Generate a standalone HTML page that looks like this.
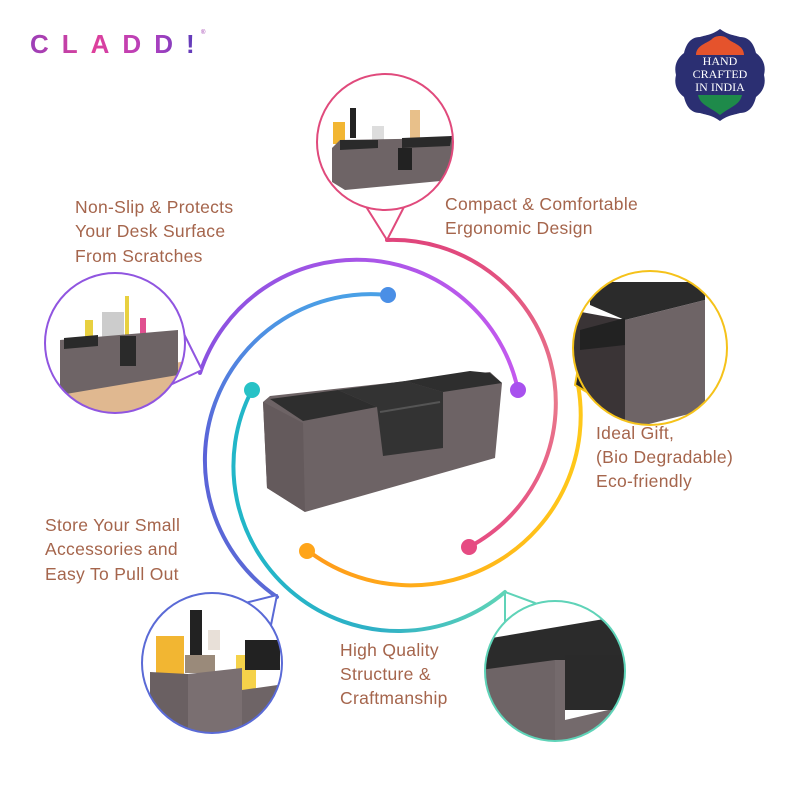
<!DOCTYPE html>
<html><head><meta charset="utf-8"><style>
html,body{margin:0;padding:0;background:#fff;width:800px;height:800px;overflow:hidden}
svg{display:block}
.t{font-family:"Liberation Sans",sans-serif;font-size:17.5px;fill:#a5654c;letter-spacing:0.3px}
</style></head><body>
<svg width="800" height="800" viewBox="0 0 800 800" xmlns="http://www.w3.org/2000/svg">
<defs>
<linearGradient id="lg" x1="30" y1="0" x2="205" y2="0" gradientUnits="userSpaceOnUse">
<stop offset="0" stop-color="#9b3fb8"/><stop offset="0.35" stop-color="#e0409a"/><stop offset="0.7" stop-color="#b040c0"/><stop offset="1" stop-color="#4a3bb8"/></linearGradient>
<linearGradient id="gP" x1="200" y1="0" x2="520" y2="0" gradientUnits="userSpaceOnUse"><stop offset="0" stop-color="#8a52e0"/><stop offset="1" stop-color="#c459ee"/></linearGradient>
<linearGradient id="gK" x1="0" y1="240" x2="0" y2="550" gradientUnits="userSpaceOnUse"><stop offset="0" stop-color="#e0457c"/><stop offset="0.5" stop-color="#e97a8c"/><stop offset="1" stop-color="#e64b82"/></linearGradient>
<linearGradient id="gB" x1="0" y1="295" x2="0" y2="600" gradientUnits="userSpaceOnUse"><stop offset="0" stop-color="#4aa0e6"/><stop offset="0.5" stop-color="#5a62d8"/><stop offset="1" stop-color="#5a6ad6"/></linearGradient>
<linearGradient id="gT" x1="250" y1="0" x2="510" y2="0" gradientUnits="userSpaceOnUse"><stop offset="0" stop-color="#22b6c8"/><stop offset="0.5" stop-color="#2fb0c6"/><stop offset="1" stop-color="#62d6b6"/></linearGradient>
<linearGradient id="gO" x1="307" y1="0" x2="580" y2="0" gradientUnits="userSpaceOnUse"><stop offset="0" stop-color="#ff9a1a"/><stop offset="1" stop-color="#ffc81a"/></linearGradient>
<clipPath id="c1"><circle cx="385" cy="142" r="68"/></clipPath>
<clipPath id="c2"><circle cx="115" cy="343" r="70"/></clipPath>
<clipPath id="c3"><circle cx="650" cy="348" r="77"/></clipPath>
<clipPath id="c4"><circle cx="212" cy="663" r="70"/></clipPath>
<clipPath id="c5"><circle cx="555" cy="671" r="70"/></clipPath>
</defs>

<!-- logo -->
<text x="30" y="53" font-family="Liberation Sans,sans-serif" font-weight="bold" font-size="26" letter-spacing="13" fill="url(#lg)">CLADD!</text>
<text x="201" y="34" font-family="Liberation Sans,sans-serif" font-size="6" fill="#a040b0">®</text>

<!-- badge -->
<g transform="translate(720,75)">
<path d="M0,-46 C8,-40 14,-40 20,-38 C30,-38 34,-30 36,-22 C44,-16 46,-8 44,0 C46,8 44,16 36,22 C34,30 30,38 20,38 C14,40 8,40 0,46 C-8,40 -14,40 -20,38 C-30,38 -34,30 -36,22 C-44,16 -46,8 -44,0 C-46,-8 -44,-16 -36,-22 C-34,-30 -30,-38 -20,-38 C-14,-40 -8,-40 0,-46Z" fill="#2b2f72"/>
<path d="M-24,-20 C-24,-30 -12,-32 -8,-36 C-4,-40 4,-40 8,-36 C12,-32 24,-30 24,-20 Z" fill="#e5532c"/>
<path d="M-22,20 L22,20 C20,30 10,32 0,40 C-10,32 -20,30 -22,20Z" fill="#1e8a4a"/>
<g font-family="Liberation Serif,serif" font-size="12" fill="#fff" text-anchor="middle">
<text x="0" y="-10">HAND</text><text x="0" y="3">CRAFTED</text><text x="0" y="16">IN  INDIA</text></g>
</g>

<!-- arcs -->
<g fill="none" stroke-width="4" stroke-linecap="round">
<path d="M200,373 A165,165 0 0 1 518,390" stroke="url(#gP)"/>
<path d="M387,240 A163,163 0 0 1 469,547" stroke="url(#gK)"/>
<path d="M388,295 A166,166 0 0 0 277,597" stroke="url(#gB)"/>
<path d="M252,390 A165,165 0 0 0 505,592" stroke="url(#gT)"/>
<path d="M307,550 A170,170 0 0 0 578,385" stroke="url(#gO)"/>
</g>
<circle cx="388" cy="295" r="8" fill="#4a8fe6"/>
<circle cx="518" cy="390" r="8" fill="#a851ee"/>
<circle cx="252" cy="390" r="8" fill="#27c2c6"/>
<circle cx="307" cy="551" r="8" fill="#ffa51a"/>
<circle cx="469" cy="547" r="8" fill="#e64b82"/>

<!-- callout tails -->
<g fill="#fff" stroke-width="2" stroke-linejoin="round">
<polygon points="365,205 387,240 405,205" stroke="#e04a7c"/>
<polygon points="170,385 202,370 182,330" stroke="#9055e0"/>
<polygon points="585,330 575,385 600,400" stroke="#f5c21a" fill="#222"/>
<polygon points="245,603 277,595 270,630" stroke="#5a6ad6"/>
<polygon points="505,592 505,630 535,603" stroke="#5fd3b8"/>
</g>

<!-- callout 1 top -->
<g clip-path="url(#c1)"><rect x="310" y="70" width="150" height="150" fill="#fff"/>
<rect x="333" y="122" width="12" height="22" fill="#f2b632"/><rect x="350" y="108" width="6" height="30" fill="#222"/><rect x="372" y="126" width="12" height="14" fill="#ddd"/><rect x="410" y="110" width="10" height="30" fill="#e8c08a"/><rect x="388" y="140" width="10" height="26" fill="#f5d24a"/>
<polygon points="332,148 340,140 455,138 451,180 345,190 332,182" fill="#6e6466"/><polygon points="340,140 378,140 378,148 340,150" fill="#2a2a2a"/><polygon points="402,138 452,136 450,146 402,148" fill="#2a2a2a"/><rect x="398" y="148" width="14" height="22" fill="#222"/></g>
<circle cx="385" cy="142" r="68" fill="none" stroke="#e04a7c" stroke-width="2"/>

<!-- callout 2 left -->
<g clip-path="url(#c2)"><rect x="40" y="270" width="150" height="150" fill="#fff"/>
<polygon points="40,390 190,360 190,420 40,420" fill="#e0b890"/>
<rect x="102" y="312" width="22" height="36" fill="#ccc"/><rect x="125" y="296" width="4" height="40" fill="#e8d040"/><rect x="140" y="318" width="6" height="20" fill="#e05090"/><rect x="85" y="320" width="8" height="20" fill="#e8d040"/>
<polygon points="60,340 178,330 178,375 60,395" fill="#6e6466"/><polygon points="64,338 98,335 98,346 64,349" fill="#2a2a2a"/><rect x="120" y="336" width="16" height="30" fill="#2a2a2a"/></g>
<circle cx="115" cy="343" r="70" fill="none" stroke="#9055e0" stroke-width="2"/>

<!-- callout 3 right -->
<g clip-path="url(#c3)"><rect x="570" y="268" width="160" height="160" fill="#fff"/>
<polygon points="590,290 610,282 705,282 705,300 625,320 590,305" fill="#2b2b2b"/>
<polygon points="625,320 705,300 705,410 625,430" fill="#6e6466"/><polygon points="570,310 625,320 625,430 570,430" fill="#3a3436"/><polygon points="580,330 625,318 625,345 580,350" fill="#222"/></g>
<circle cx="650" cy="348" r="77" fill="none" stroke="#f5c21a" stroke-width="2"/>

<!-- callout 4 bottom left -->
<g clip-path="url(#c4)"><rect x="140" y="590" width="145" height="150" fill="#fff"/>
<rect x="156" y="636" width="28" height="40" fill="#f2b632"/><rect x="190" y="610" width="12" height="45" fill="#222"/><rect x="208" y="630" width="12" height="20" fill="#e8e0d8"/><rect x="185" y="655" width="30" height="18" fill="#9a8a7a"/><rect x="236" y="655" width="20" height="45" fill="#f5d24a"/><rect x="245" y="640" width="35" height="30" fill="#222"/>
<polygon points="150,672 188,674 188,740 150,740" fill="#6a6062"/><polygon points="188,674 242,668 242,740 188,740" fill="#7a6f71"/><polygon points="242,690 285,684 285,740 242,740" fill="#6e6466"/></g>
<circle cx="212" cy="663" r="70" fill="none" stroke="#5a6ad6" stroke-width="2"/>

<!-- callout 5 bottom right -->
<g clip-path="url(#c5)"><rect x="480" y="598" width="150" height="150" fill="#fff"/>
<polygon points="480,640 610,618 630,620 630,680 600,690 480,675" fill="#2b2b2b"/>
<polygon points="480,670 555,660 555,745 480,745" fill="#6e6466"/><polygon points="555,660 565,660 565,720 630,705 630,745 555,745" fill="#746a6c"/><rect x="565" y="655" width="65" height="55" fill="#2a2a2a"/></g>
<circle cx="555" cy="671" r="70" fill="none" stroke="#5fd3b8" stroke-width="2"/>

<!-- central product -->
<polygon points="263,402 270,396 490,372 502,383 495,458 305,512 267,488" fill="#6d6365"/>
<polygon points="263,402 303,423 305,512 267,488" fill="#645a5c"/>
<polygon points="270,399 338,390 377,407 303,421" fill="#2e2e2e"/>
<polygon points="338,390 405,381 443,392 443,448 383,456 377,407" fill="#333"/>
<polygon points="405,381 470,371 490,373 502,383 443,392" fill="#2e2e2e"/>
<line x1="380" y1="412" x2="440" y2="402" stroke="#555" stroke-width="2"/>

<!-- texts -->
<g class="t">
<text x="75" y="213">Non-Slip &amp; Protects</text>
<text x="75" y="237">Your Desk Surface</text>
<text x="75" y="262">From Scratches</text>
<text x="445" y="210">Compact &amp; Comfortable</text>
<text x="445" y="234">Ergonomic Design</text>
<text x="596" y="439">Ideal Gift,</text>
<text x="596" y="463">(Bio Degradable)</text>
<text x="596" y="487">Eco-friendly</text>
<text x="45" y="531">Store Your Small</text>
<text x="45" y="555">Accessories and</text>
<text x="45" y="580">Easy To Pull Out</text>
<text x="340" y="656">High Quality</text>
<text x="340" y="680">Structure &amp;</text>
<text x="340" y="704">Craftmanship</text>
</g>
</svg>
</body></html>
